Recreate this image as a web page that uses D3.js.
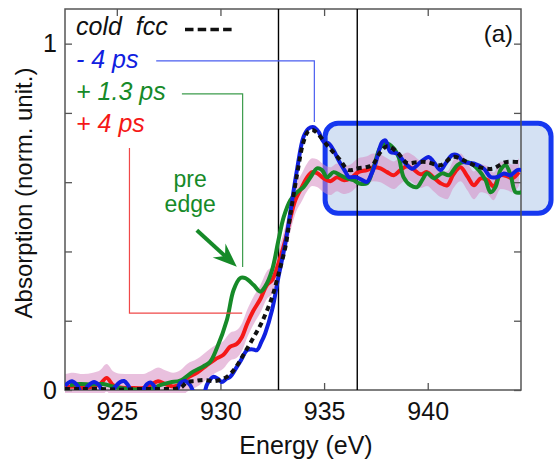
<!DOCTYPE html>
<html>
<head>
<meta charset="utf-8">
<script src="https://cdnjs.cloudflare.com/ajax/libs/d3/7.8.5/d3.min.js"></script>
<style>
  body { margin: 0; background: #fff; }
  svg { font-family: "Liberation Sans", Arial, Helvetica, sans-serif; }
</style>
</head>
<body>
<div id="chart"></div>
<script>
// spectra: [energy (eV), absorption]
var coldFcc = [
  [922.50,0.003],[923.22,0.003],[924.19,0.003],[925.16,0.001],[926.12,0.003],[927.09,0.003],
  [928.06,0.006],[928.39,0.023],[928.78,0.026],[929.17,0.029],[929.75,0.026],[930.31,0.038],
  [930.71,0.063],[931.10,0.101],[931.58,0.150],[932.00,0.196],[932.49,0.268],[932.80,0.335],
  [933.13,0.412],[933.37,0.505],[933.69,0.620],[934.00,0.715],[934.24,0.747],[934.48,0.750],
  [934.72,0.738],[935.14,0.707],[935.45,0.686],[935.79,0.663],[936.11,0.637],[936.36,0.635],
  [936.65,0.640],[936.99,0.643],[937.32,0.649],[937.72,0.687],[938.04,0.704],[938.52,0.687],
  [939.01,0.655],[939.49,0.658],[939.97,0.658],[940.62,0.649],[941.24,0.673],[941.91,0.658],
  [942.45,0.644],[943.11,0.639],[943.76,0.658],[944.38,0.658]
];
var minus4ps = [
  [922.50,0.012],[922.64,0.020],[922.84,0.025],[923.08,0.014],[923.32,-0.008],[923.61,0.012],
  [923.90,0.023],[924.14,0.014],[924.38,-0.010],[924.67,-0.012],[924.92,0.009],[925.16,0.023],
  [925.35,0.026],[925.54,0.014],[925.79,-0.012],[926.12,-0.010],[926.46,0.017],[926.61,0.022],
  [926.80,0.012],[926.99,-0.012],[927.33,-0.015],[927.81,-0.008],[928.06,0.020],[928.30,0.026],
  [928.54,0.014],[928.78,-0.012],[929.17,-0.012],[929.36,0.017],[929.65,0.038],[929.89,0.032],
  [930.07,0.023],[930.28,0.032],[930.47,0.038],[930.79,0.067],[931.00,0.087],[931.28,0.115],
  [931.49,0.118],[931.76,0.115],[931.97,0.138],[932.16,0.164],[932.49,0.231],[932.80,0.327],
  [933.13,0.424],[933.37,0.513],[933.69,0.635],[934.01,0.731],[934.25,0.755],[934.50,0.759],
  [934.74,0.745],[934.98,0.716],[935.22,0.712],[935.46,0.692],[935.70,0.663],[936.03,0.630],
  [936.19,0.615],[936.51,0.615],[936.75,0.609],[937.07,0.601],[937.28,0.623],[937.48,0.654],
  [937.80,0.716],[937.96,0.721],[938.20,0.687],[938.52,0.683],[938.93,0.654],[939.25,0.639],
  [939.65,0.658],[940.05,0.673],[940.29,0.658],[940.62,0.635],[940.86,0.654],[941.18,0.678],
  [941.42,0.678],[941.74,0.658],[942.22,0.654],[942.71,0.639],[943.03,0.615],[943.36,0.615],
  [943.67,0.625],[944.00,0.620],[944.32,0.635],[944.53,0.635]
];
var plus13ps = [
  [922.74,0.014],[923.22,0.017],[923.80,0.016],[924.34,0.017],[924.82,0.010],[925.50,0.003],
  [926.61,0.003],[927.09,0.014],[927.57,0.022],[928.06,0.027],[928.68,0.053],[929.17,0.068],
  [929.50,0.081],[929.83,0.121],[930.31,0.202],[930.63,0.288],[930.95,0.323],[931.20,0.323],
  [931.60,0.303],[931.92,0.284],[932.16,0.299],[932.49,0.346],[932.80,0.433],[933.05,0.499],
  [933.37,0.548],[933.69,0.571],[934.01,0.586],[934.34,0.614],[934.66,0.640],[934.90,0.635],
  [935.14,0.614],[935.46,0.629],[935.79,0.620],[936.11,0.611],[936.43,0.606],[936.67,0.597],
  [937.07,0.597],[937.39,0.643],[937.72,0.701],[938.04,0.712],[938.36,0.698],[938.60,0.672],
  [938.84,0.614],[939.17,0.591],[939.49,0.586],[939.73,0.606],[939.97,0.626],[940.29,0.611],
  [940.70,0.626],[941.02,0.620],[941.42,0.649],[941.74,0.658],[942.06,0.655],[942.46,0.635],
  [942.79,0.606],[943.03,0.571],[943.27,0.586],[943.51,0.635],[943.76,0.649],[944.00,0.620],
  [944.24,0.571],[944.53,0.571]
];
var plus4ps = [
  [922.50,0.006],[922.89,0.010],[923.37,0.006],[923.85,0.010],[924.19,0.017],[924.51,0.035],
  [924.82,0.014],[925.16,0.007],[925.64,0.006],[926.27,0.006],[926.61,0.014],[926.99,0.025],
  [927.33,0.017],[927.72,0.010],[928.06,0.017],[928.39,0.035],[928.88,0.050],[929.35,0.072],
  [929.75,0.089],[930.13,0.101],[930.47,0.125],[930.79,0.133],[931.04,0.153],[931.28,0.190],
  [931.58,0.228],[931.92,0.262],[932.24,0.303],[932.49,0.317],[932.80,0.366],[933.13,0.433],
  [933.37,0.496],[933.61,0.548],[933.93,0.586],[934.18,0.614],[934.42,0.629],[934.66,0.626],
  [934.98,0.611],[935.30,0.603],[935.63,0.614],[935.93,0.606],[936.27,0.611],[936.65,0.629],
  [937.07,0.635],[937.38,0.643],[937.72,0.640],[938.04,0.629],[938.36,0.620],[938.68,0.635],
  [939.01,0.646],[939.31,0.637],[939.65,0.623],[939.97,0.629],[940.28,0.614],[940.62,0.597],
  [940.94,0.591],[941.24,0.623],[941.58,0.643],[941.91,0.617],[942.23,0.591],[942.56,0.611],
  [942.88,0.606],[943.18,0.588],[943.51,0.620],[943.84,0.617],[944.09,0.611],[944.40,0.629]
];
var plus4psErr = 0.04;

var xTicks = [925, 930, 935, 940];
var yTicks = [0, 0.2, 0.4, 0.6, 0.8, 1];
var edgeLines = [932.8, 936.6];
var legendLabels = ["cold\u00a0\u00a0fcc", "- 4 ps", "+ 1.3 ps", "+ 4 ps"];

var width = 556,
  height = 469,
  margin = {left: 65, right: 35, top: 9, bottom: 79},
  w = width - margin.left - margin.right,
  h = height - margin.top - margin.bottom;

var colors = {cold: "#111", m4: "#1020e0", p13: "#168a28", p4: "#f51818"};

var svg = d3.select("#chart").append("svg")
  .attr("width", width)
  .attr("height", height);

var x = d3.scaleLinear().domain([922.5, 944.5]).range([margin.left, margin.left + w]),
  y = d3.scaleLinear().domain([0, 1.1]).range([margin.top + h, margin.top]);

svg.append("defs").append("clipPath").attr("id", "plot")
  .append("rect").attr("x", margin.left).attr("y", margin.top).attr("width", w).attr("height", h);
svg.select("defs").append("clipPath").attr("id", "band")
  .append("rect").attr("x", margin.left - 3).attr("y", margin.top).attr("width", w + 6).attr("height", h + 3);

// blue box behind the oscillations
var box = [935.05, 945.95, 0.51, 0.77];
svg.append("rect")
  .attr("x", x(box[0])).attr("y", y(box[3]))
  .attr("width", x(box[1]) - x(box[0])).attr("height", y(box[2]) - y(box[3]))
  .attr("rx", 13)
  .style("fill", "#d4e1f3")
  .style("stroke", "#1638f0")
  .style("stroke-width", 5);

// error band of +4 ps
var band = d3.area()
  .x(function (d) { return x(d[0]); })
  .y0(function (d) { return y(d[1] - plus4psErr); })
  .y1(function (d) { return y(d[1] + plus4psErr); })
  .curve(d3.curveMonotoneX);
svg.append("path")
  .datum(plus4ps)
  .attr("clip-path", "url(#band)")
  .attr("d", band)
  .style("fill", "#d78cc3")
  .style("opacity", 0.55);

// frame + edge markers
svg.append("rect")
  .attr("x", margin.left).attr("y", margin.top).attr("width", w).attr("height", h)
  .style("fill", "none").style("stroke", "#555").style("stroke-width", 1.5);
svg.selectAll(".edge").data(edgeLines).enter().append("line")
  .attr("class", "edge")
  .attr("x1", function (d) { return x(d); }).attr("x2", function (d) { return x(d); })
  .attr("y1", margin.top).attr("y2", margin.top + h)
  .style("stroke", "#000").style("stroke-width", 1.4);

// axes with inward ticks
function styleAxis(g, labels) {
  g.select(".domain").remove();
  g.selectAll(".tick line").style("stroke", "#555").style("stroke-width", 1.3);
  g.selectAll(".tick text").style("font-size", "25px").style("fill", "#111")
    .style("font-family", "'Liberation Sans', Arial, sans-serif");
  if (!labels) g.selectAll(".tick text").remove();
}
svg.append("g").attr("transform", "translate(0," + (margin.top + h) + ")")
  .call(d3.axisBottom(x).tickValues(xTicks).tickSize(-7).tickPadding(12))
  .call(styleAxis, true);
svg.append("g").attr("transform", "translate(0," + margin.top + ")")
  .call(d3.axisTop(x).tickValues(xTicks).tickSize(-7))
  .call(styleAxis, false);
svg.append("g").attr("transform", "translate(" + margin.left + ",0)")
  .call(d3.axisLeft(y).tickValues(yTicks).tickSize(-7).tickPadding(8)
    .tickFormat(function (d) { return (d === 0 || d === 1) ? d3.format("d")(d) : ""; }))
  .call(styleAxis, true);
svg.append("g").attr("transform", "translate(" + (margin.left + w) + ",0)")
  .call(d3.axisRight(y).tickValues(yTicks).tickSize(-7))
  .call(styleAxis, false);

// spectra
var line = d3.line()
  .x(function (d) { return x(d[0]); })
  .y(function (d) { return y(d[1]); })
  .curve(d3.curveCatmullRom.alpha(0.5));

var series = [
  {data: plus4ps, color: colors.p4, dash: null},
  {data: plus13ps, color: colors.p13, dash: null},
  {data: minus4ps, color: colors.m4, dash: null},
  {data: coldFcc, color: colors.cold, dash: "5,4"}
];
svg.append("g").attr("clip-path", "url(#plot)")
  .selectAll("path").data(series).enter().append("path")
  .attr("d", function (d) { return line(d.data); })
  .style("fill", "none")
  .style("stroke", function (d) { return d.color; })
  .style("stroke-width", 4)
  .style("stroke-linejoin", "round")
  .style("stroke-dasharray", function (d) { return d.dash; });

// legend
var legendColors = [colors.cold, colors.m4, colors.p13, colors.p4],
  legendY = [35, 68, 100, 132];
svg.selectAll(".leg").data(legendLabels).enter().append("text")
  .attr("class", "leg")
  .attr("x", 76)
  .attr("y", function (d, i) { return legendY[i]; })
  .style("font-size", "25px")
  .style("font-style", "italic")
  .style("fill", function (d, i) { return legendColors[i]; })
  .text(function (d) { return d; });
svg.append("line")
  .attr("x1", 185).attr("x2", 234).attr("y1", 29.5).attr("y2", 29.5)
  .style("stroke", "#111").style("stroke-width", 3.5).style("stroke-dasharray", "8.5,4.2");

// connectors from labels to the curves
var connectors = [
  {pts: [[926.90, 0.950], [934.53, 0.950], [934.53, 0.774]], color: "#4a5ef0"},
  {pts: [[928.14, 0.855], [931.07, 0.855], [931.07, 0.355]], color: "#3c9c4c"},
  {pts: [[925.61, 0.699], [925.61, 0.222], [931.05, 0.222]], color: "#f04848"}
];
var plain = d3.line().x(function (d) { return x(d[0]); }).y(function (d) { return y(d[1]); });
svg.selectAll(".conn").data(connectors).enter().append("path")
  .attr("class", "conn")
  .attr("d", function (d) { return plain(d.pts); })
  .style("fill", "none")
  .style("stroke", function (d) { return d.color; })
  .style("stroke-width", 1.2);

// pre edge arrow
var arrowFrom = [928.86, 0.461], arrowTo = [930.79, 0.356];
var ax0 = x(arrowFrom[0]), ay0 = y(arrowFrom[1]), ax1 = x(arrowTo[0]), ay1 = y(arrowTo[1]);
var len = Math.hypot(ax1 - ax0, ay1 - ay0), ux = (ax1 - ax0) / len, uy = (ay1 - ay0) / len;
function pt(a, p) { return [ax1 + ux * a - uy * p, ay1 + uy * a + ux * p]; }
svg.append("line")
  .attr("x1", ax0).attr("y1", ay0)
  .attr("x2", pt(-16, 0)[0]).attr("y2", pt(-16, 0)[1])
  .style("stroke", colors.p13).style("stroke-width", 4);
svg.append("path")
  .attr("d", "M" + [pt(0, 0), pt(-24, 9.5), pt(-16, 0), pt(-24, -9.5)].join("L") + "Z")
  .style("fill", colors.p13);

svg.append("text").attr("x", x(928.54)).attr("y", y(0.585))
  .attr("text-anchor", "middle").style("font-size", "23px").style("fill", colors.p13).text("pre");
svg.append("text").attr("x", x(928.54)).attr("y", y(0.513))
  .attr("text-anchor", "middle").style("font-size", "23px").style("fill", colors.p13).text("edge");

// titles
svg.append("text").attr("x", 513).attr("y", 42)
  .attr("text-anchor", "end").style("font-size", "24px").style("fill", "#111").text("(a)");
svg.append("text").attr("x", margin.left + w / 2 + 13).attr("y", 454)
  .attr("text-anchor", "middle").style("font-size", "25px").style("fill", "#111").text("Energy (eV)");
svg.append("text").attr("transform", "translate(32,193) rotate(-90)")
  .attr("text-anchor", "middle").style("font-size", "24px").style("fill", "#111")
  .text("Absorption (norm. unit.)");
</script>
</body>
</html>
